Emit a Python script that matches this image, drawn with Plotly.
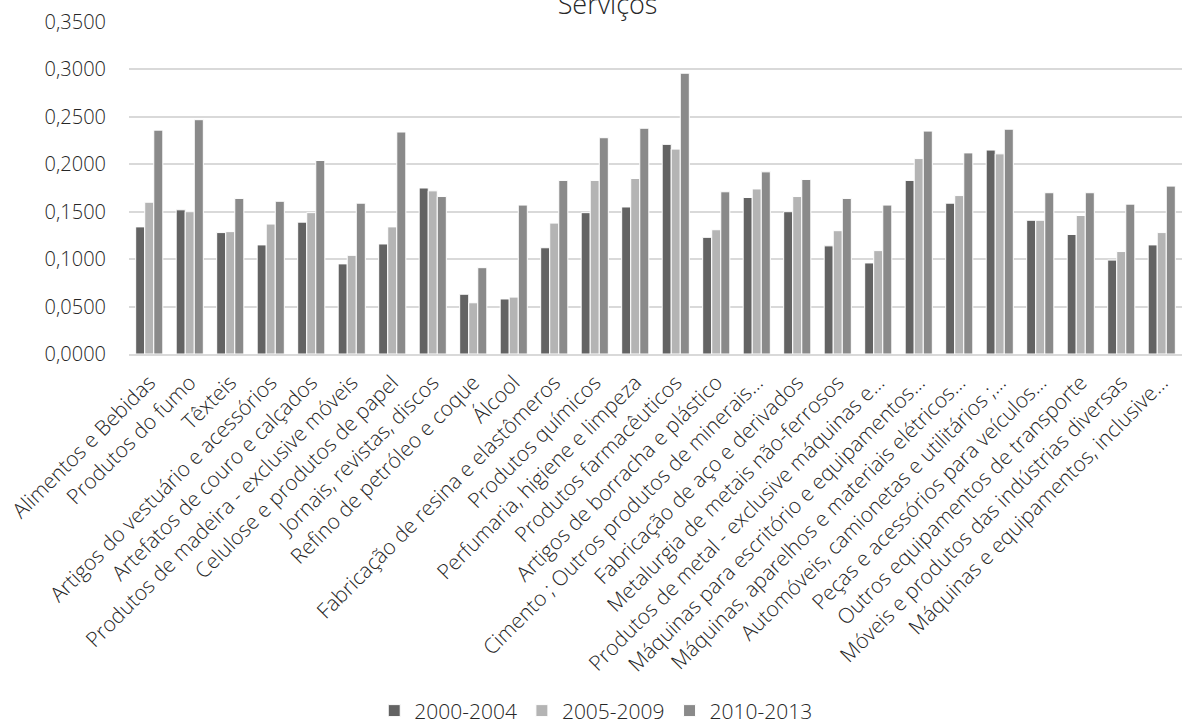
import plotly.graph_objects as go

categories = [
    "Alimentos e Bebidas",
    "Produtos do fumo",
    "Têxteis",
    "Artigos do vestuário e acessórios",
    "Artefatos de couro e calçados",
    "Produtos de madeira - exclusive móveis",
    "Celulose e produtos de papel",
    "Jornais, revistas, discos",
    "Refino de petróleo e coque",
    "Álcool",
    "Fabricação de resina e elastômeros",
    "Produtos químicos",
    "Perfumaria, higiene e limpeza",
    "Produtos farmacêuticos",
    "Artigos de borracha e plástico",
    "Cimento ; Outros produtos de minerais…",
    "Fabricação de aço e derivados",
    "Metalurgia de metais não-ferrosos",
    "Produtos de metal - exclusive máquinas e…",
    "Máquinas para escritório e equipamentos…",
    "Máquinas, aparelhos e materiais elétricos…",
    "Automóveis, camionetas e utilitários ;…",
    "Peças e acessórios para veículos…",
    "Outros equipamentos de transporte",
    "Móveis e produtos das indústrias diversas",
    "Máquinas e equipamentos, inclusive…",
]

p2000_2004 = [0.134, 0.152, 0.128, 0.115, 0.139, 0.095, 0.116, 0.175, 0.063, 0.058,
              0.112, 0.149, 0.155, 0.221, 0.123, 0.165, 0.150, 0.114, 0.096, 0.183,
              0.159, 0.215, 0.141, 0.126, 0.099, 0.115]
p2005_2009 = [0.160, 0.150, 0.129, 0.137, 0.149, 0.104, 0.134, 0.172, 0.054, 0.060,
              0.138, 0.183, 0.185, 0.216, 0.131, 0.174, 0.166, 0.130, 0.109, 0.206,
              0.167, 0.211, 0.141, 0.146, 0.108, 0.128]
p2010_2013 = [0.236, 0.247, 0.164, 0.161, 0.204, 0.159, 0.234, 0.166, 0.091, 0.157,
              0.183, 0.228, 0.238, 0.296, 0.171, 0.192, 0.184, 0.164, 0.157, 0.235,
              0.212, 0.237, 0.170, 0.170, 0.158, 0.177]

series = [
    ("2000-2004", p2000_2004, "#636363"),
    ("2005-2009", p2005_2009, "#b4b4b4"),
    ("2010-2013", p2010_2013, "#8a8a8a"),
]

FONT = "Open Sans"
TEXT = "#262626"

fig = go.Figure()
for name, vals, color in series:
    fig.add_trace(go.Bar(
        name=name, x=categories, y=vals,
        marker=dict(color=color, line=dict(color="white", width=1)),
    ))

fig.update_layout(
    width=1182, height=724,
    margin=dict(l=129, r=0, t=22, b=370),
    paper_bgcolor="white", plot_bgcolor="white",
    barmode="group", bargap=0.33, bargroupgap=0.0,
    separators=",.",
    font=dict(family=FONT, size=20, color=TEXT, weight=300),
    title=dict(text="Serviços", x=0.514, xref="container", xanchor="center",
               y=0.994, yref="container", yanchor="middle",
               font=dict(family=FONT, size=27, color=TEXT, weight=300)),
    legend=dict(orientation="h", x=0.504, xref="container", xanchor="center",
                y=0.018, yref="container", yanchor="middle",
                font=dict(family=FONT, size=21, color=TEXT, weight=300),
                itemwidth=30, traceorder="normal"),
    xaxis=dict(tickangle=-45, showgrid=False, showline=True,
               linecolor="#d9d9d9", linewidth=2, ticks="",
               ticklabelstandoff=6,
               tickfont=dict(family=FONT, size=21, color=TEXT, weight=300),
               automargin=False),
    yaxis=dict(range=[0, 0.35], dtick=0.05, tickformat=".4f",
               showgrid=True, gridcolor="#d9d9d9", gridwidth=2,
               zeroline=False, ticks="", ticklabelstandoff=22,
               tickfont=dict(family=FONT, size=20, color=TEXT, weight=300),
               automargin=False),
)

fig.write_html("out.html")
